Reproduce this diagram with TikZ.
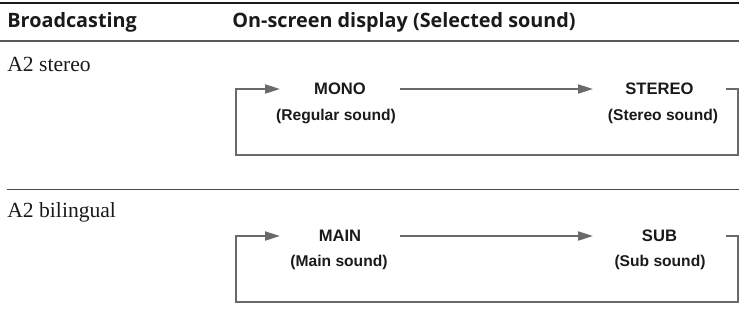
\documentclass[tikz,border=0pt]{standalone}
\usepackage{fontspec}
\setmainfont{Liberation Serif}
\newfontfamily\hdrfont{Open Sans}
\newfontfamily\labfont{Liberation Sans}
\usetikzlibrary{arrows.meta,positioning}
\definecolor{ink}{HTML}{1A1A1A}
\definecolor{rulegray}{HTML}{5A5A5A}
\definecolor{loopgray}{HTML}{6A6A6A}
\tikzset{
colhead/.style={anchor=base west,inner sep=0pt,font=\hdrfont\bfseries\fontsize{9.9}{11}\selectfont,text=ink},
rowname/.style={anchor=base west,inner sep=0pt,font=\fontsize{10.8}{12}\selectfont,text=ink},
mode/.style={inner sep=0pt,outer sep=0pt,font=\labfont\bfseries\fontsize{8.3}{10}\selectfont,text=ink},
modenote/.style={inner sep=0pt,font=\labfont\bfseries\fontsize{7.8}{9}\selectfont,text=ink},
flow/.style={-{Triangle[length=7.5pt,width=4.5pt]},line width=1pt,draw=loopgray},
tablerule/.style={line width=.6pt,draw=rulegray}}

\begin{document}
\begin{tikzpicture}[x=.5pt,y=-.5pt]
\useasboundingbox (0,0) rectangle (739,334);
% table rules
\draw[tablerule,draw=ink,line width=1.1pt] (0,3) -- (739,3);
\draw[tablerule,line width=.7pt] (0,41) -- (739,41);
\draw[tablerule,draw=ink!80] (7,189.5) -- (739,189.5);
\node[colhead] (bcast) at (7,27.3) {Broadcasting};
\node[colhead] (osd) at (232,27.3) {On-screen display (Selected sound)};
% A2 stereo
\node[rowname] (stereorow) at (7,71) {A2 stereo};
\node[mode,minimum width=60pt] (mono) at (340,89) {MONO};
\node[mode,minimum width=66.5pt] (stereo) at (659.5,89) {STEREO};
\node[modenote] (mononote) at (336,116) {(Regular sound)};
\node[modenote] (stereonote) at (663,116) {(Stereo sound)};
\coordinate (stereoloop) at (235.5,155);
\draw[flow] (mono) -- (stereo);
\draw[flow] (stereo.east) -- ++(11.5,0) |- (stereoloop) |- (mono.west);
% A2 bilingual
\node[rowname] (bilingrow) at (7,217.3) {A2 bilingual};
\node[mode,minimum width=60pt] (main) at (340,236) {MAIN};
\node[mode,minimum width=66.5pt] (sub) at (659.5,236) {SUB};
\node[modenote] (mainnote) at (339,262) {(Main sound)};
\node[modenote] (subnote) at (660,262) {(Sub sound)};
\coordinate (bilingloop) at (235.5,302);
\draw[flow] (main) -- (sub);
\draw[flow] (sub.east) -- ++(11.5,0) |- (bilingloop) |- (main.west);
\end{tikzpicture}
\end{document}
